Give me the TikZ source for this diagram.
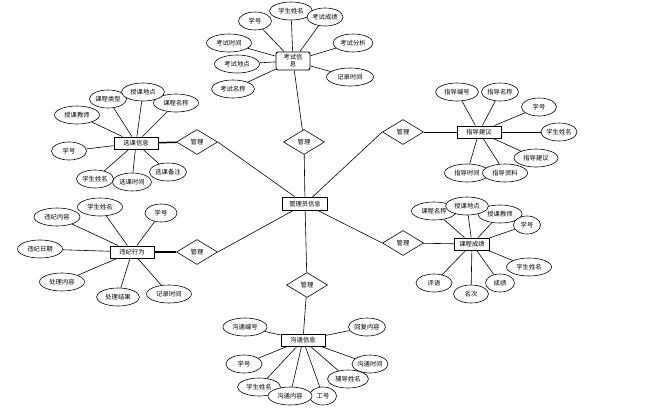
\documentclass[tikz,border=0pt]{standalone}
\usepackage{fontspec}
\newfontfamily\cjk{Noto Sans CJK SC}
\usetikzlibrary{shapes.geometric,backgrounds}
\begin{document}
\begin{tikzpicture}[x=1pt,y=-1pt,
  every node/.style={font=\cjk\fontsize{6.3}{7}\selectfont, inner sep=0pt},
  attr/.style={ellipse, draw, line width=0.6pt, fill=white, minimum height=18pt, minimum width=#1},
  attr/.default=43pt,
  ent/.style={rectangle, draw, line width=0.9pt, fill=white, minimum height=12pt, minimum width=#1},
  ent/.default=44pt,
  rel/.style={diamond, draw, line width=0.6pt, fill=white, aspect=1.65, minimum width=41pt, minimum height=25pt},
  thin link/.style={line width=0.6pt},
  thick link/.style={line width=1.5pt}]
\useasboundingbox (0,0) rectangle (651,416);
% central
\node[ent=45pt, minimum height=13pt] (M) at (305,204) {管理员信息};
% relationships
\node[rel] (D1) at (304,142) {管理};
\node[rel] (D2) at (197,142) {管理};
\node[rel] (D3) at (197,252) {管理};
\node[rel] (D4) at (403,132) {管理};
\node[rel] (D5) at (403,243) {管理};
\node[rel] (D6) at (307,285) {管理};
% entities
\node[ent=34pt, minimum height=18pt, rounded corners=2pt, align=center] (E1) at (293,61) {考试信\\息};
\node[ent] (E2) at (136,143) {选课信息};
\node[ent] (E3) at (132,252) {违纪行为};
\node[ent] (E4) at (479,132) {指导建议};
\node[ent=35pt] (E5) at (472,244) {课程成绩};
\node[ent] (E6) at (303,340) {沟通信息};
% E1 attributes
\node[attr=33pt] (a1) at (255,21) {学号};
\node[attr=43pt] (a2) at (291,11) {学生姓名};
\node[attr=36pt] (a3) at (325,17) {考试成绩};
\node[attr=45pt] (a4) at (229,43) {考试时间};
\node[attr=45pt] (a5) at (237,64) {考试地点};
\node[attr=43pt] (a6) at (233,89) {考试名称};
\node[attr=40pt] (a7) at (353,43) {考试分析};
\node[attr=47pt] (a8) at (350,77) {记录时间};
% E2 attributes
\node[attr=45pt] (b1) at (77,115) {授课教师};
\node[attr=37pt] (b2) at (108,99) {课程类型};
\node[attr=45pt] (b4) at (176,103) {课程名称};
\node[attr=43pt] (b3) at (143,92) {授课地点};
\node[attr=35pt] (b5) at (69,151) {学号};
\node[attr=37pt] (b6) at (95,179) {学生姓名};
\node[attr=37pt] (b8) at (168,172) {选课备注};
\node[attr=39pt] (b7) at (132,182) {选课时间};
% E3 attributes
\node[attr=46pt] (c1) at (57,217) {违纪内容};
\node[attr=45pt] (c2) at (100,207) {学生姓名};
\node[attr=32pt] (c3) at (161,213) {学号};
\node[attr=45pt] (c4) at (40,249) {违纪日期};
\node[attr=45pt] (c5) at (62,282) {处理内容};
\node[attr=43pt] (c6) at (118,297) {处理结果};
\node[attr=45pt] (c7) at (169,294) {记录时间};
% E4 attributes
\node[attr=43pt] (d1) at (457,92) {指导编号};
\node[attr=37pt] (d2) at (500,92) {指导名称};
\node[attr=35pt] (d3) at (539,107) {学号};
\node[attr=36pt] (d4) at (559,132) {学生姓名};
\node[attr=44pt] (d5) at (536,158) {指导建议};
\node[attr=45pt] (d6) at (467,173) {指导时间};
\node[attr=45pt] (d7) at (505,173) {指导资料};
% E5 attributes
\node[attr=45pt] (e1) at (434,211) {课程名称};
\node[attr=44pt] (e3) at (500,214) {授课教师};
\node[attr=43pt] (e2) at (467,206) {授课地点};
\node[attr=27pt] (e4) at (527,225) {学号};
\node[attr=45pt] (e5) at (529,267) {学生姓名};
\node[attr=29pt] (e6) at (500,283) {成绩};
\node[attr=35pt] (e7) at (471,294) {名次};
\node[attr=36pt] (e8) at (434,283) {评语};
% E6 attributes
\node[attr=44pt] (f1) at (245,327) {沟通编号};
\node[attr=37pt] (f2) at (367,327) {回复内容};
\node[attr=36pt] (f3) at (244,364) {学号};
\node[attr=36pt] (f4) at (370,364) {沟通时间};
\node[attr=41pt] (f5) at (348,379) {辅导姓名};
\node[attr=43pt] (f6) at (259,387) {学生姓名};
\node[attr=27pt] (f8) at (323,396) {工号};
\node[attr=44pt] (f7) at (290,396) {沟通内容};
\begin{pgfonlayer}{background}
  \draw[thin link] (M) -- (D1);
  \draw[thin link] (D1) -- (E1);
  \draw[thin link] (M) -- (D2.east);
  \draw[thick link] (D2) -- (E2);
  \draw[thin link] (M) -- (D3.east);
  \draw[thick link] (D3) -- (E3);
  \draw[thin link] (M) -- (D4.west);
  \draw[thin link] (D4) -- (E4);
  \draw[thin link] (M) -- (D5.west);
  \draw[thin link] (D5) -- (E5);
  \draw[thin link] (M) -- (D6);
  \draw[thin link] (D6) -- (E6);
  \foreach \n in {a1,a2,a3,a4,a5,a6,a7,a8} \draw[thin link] (E1) -- (\n);
  \foreach \n in {b1,b2,b3,b4,b5,b6,b7,b8} \draw[thin link] (E2) -- (\n);
  \foreach \n in {c1,c2,c3,c4,c5,c6,c7} \draw[thin link] (E3) -- (\n);
  \foreach \n in {d1,d2,d3,d4,d5,d6,d7} \draw[thin link] (E4) -- (\n);
  \foreach \n in {e1,e2,e3,e4,e5,e6,e7,e8} \draw[thin link] (E5) -- (\n);
  \foreach \n in {f1,f2,f3,f4,f5,f6,f7,f8} \draw[thin link] (E6) -- (\n);
\end{pgfonlayer}
\end{tikzpicture}
\end{document}
